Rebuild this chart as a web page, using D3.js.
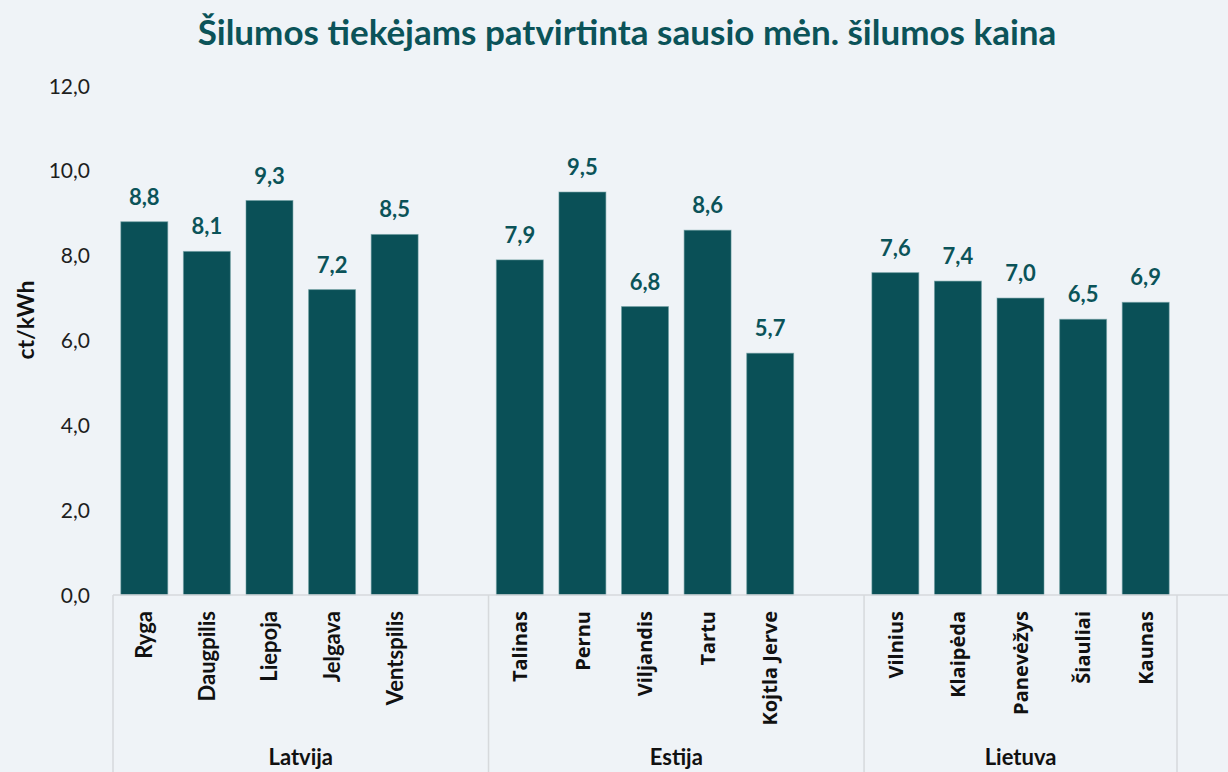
<!DOCTYPE html>
<html>
<head>
<meta charset="utf-8">
<script src="https://cdn.jsdelivr.net/npm/d3@7"></script>
<style>
  html, body { margin: 0; padding: 0; background: #eff3f7; }
  svg { display: block; }
</style>
</head>
<body>
<div id="chart"></div>
<script>
// 1. DATA
const groups = ["Latvija", "Estija", "Lietuva"];
const latvijaCities = ["Ryga", "Daugpilis", "Liepoja", "Jelgava", "Ventspilis"];
const latvijaValues = [8.8, 8.1, 9.3, 7.2, 8.5];
const estijaCities = ["Talinas", "Pernu", "Viljandis", "Tartu", "Kojtla Jerve"];
const estijaValues = [7.9, 9.5, 6.8, 8.6, 5.7];
const lietuvaCities = ["Vilnius", "Klaipėda", "Panevėžys", "Šiauliai", "Kaunas"];
const lietuvaValues = [7.6, 7.4, 7.0, 6.5, 6.9];
const yTicks = [0, 2, 4, 6, 8, 10, 12];

const title = "Šilumos tiekėjams patvirtinta sausio mėn. šilumos kaina";
const yTitle = "ct/kWh";

// 2. SETUP
const width = 1228;
const height = 772;
const barColor = "#0a5057";
const axisColor = "#d6d9dc";

const svg = d3.select("#chart")
    .append("svg")
    .attr("width", width)
    .attr("height", height);

svg.append("rect").attr("width", width).attr("height", height).attr("fill", "#eff3f7");

const groupData = [
    { name: groups[0], cities: latvijaCities, values: latvijaValues, gap: true, font: "Lato", size: 22 },
    { name: groups[1], cities: estijaCities, values: estijaValues, gap: true, font: "Open Sans", size: 20 },
    { name: groups[2], cities: lietuvaCities, values: lietuvaValues, gap: false, font: "Open Sans", size: 20 }
];

// flat list of bars plus empty slots between groups
const bars = [];
const slots = [];
groupData.forEach(g => {
    g.cities.forEach((c, i) => {
        const key = g.name + "|" + c;
        slots.push(key);
        bars.push({ key, group: g, city: c, value: g.values[i] });
    });
    if (g.gap) slots.push(g.name + "|_gap");
});

const x = d3.scaleBand()
    .domain(slots)
    .range([113, 1177])
    .paddingInner(0.25)
    .paddingOuter(0.125);

const y = d3.scaleLinear()
    .domain([0, 12])
    .range([595, 86]);

const locale = d3.formatLocale({ decimal: ",", thousands: " ", grouping: [3], currency: ["", "€"] });
const fmt = locale.format(".1f");

// 3. DRAWING
svg.append("text")
    .attr("x", 627).attr("y", 45)
    .attr("text-anchor", "middle")
    .style("font-family", "Lato, sans-serif")
    .style("font-weight", "bold")
    .style("font-size", "35px")
    .style("fill", "#0b5359")
    .text(title);

// y tick labels
svg.append("g").selectAll("text").data(yTicks).join("text")
    .attr("x", 90).attr("y", d => y(d))
    .attr("dy", "0.36em")
    .attr("text-anchor", "end")
    .style("font-family", "Lato, sans-serif")
    .style("font-size", "21px")
    .style("fill", "#1e1e1e")
    .text(d => fmt(d));

svg.append("text")
    .attr("transform", "translate(34, 320) rotate(-90)")
    .attr("text-anchor", "middle")
    .style("font-family", "Lato, sans-serif")
    .style("font-weight", "bold")
    .style("font-size", "23px")
    .style("fill", "#111")
    .text(yTitle);

// bars
svg.append("g").selectAll("rect").data(bars).join("rect")
    .attr("x", d => x(d.key))
    .attr("y", d => y(d.value))
    .attr("width", x.bandwidth())
    .attr("height", d => y(0) - y(d.value))
    .attr("fill", barColor)
    .attr("stroke", "#6a9a9e")
    .attr("stroke-opacity", 0.55)
    .attr("stroke-width", 1);

// value labels
svg.append("g").selectAll("text").data(bars).join("text")
    .attr("x", d => x(d.key) + x.bandwidth() / 2)
    .attr("y", d => y(d.value) - 17)
    .attr("text-anchor", "middle")
    .style("font-family", "Lato, sans-serif")
    .style("font-weight", "bold")
    .style("font-size", "22px")
    .style("fill", "#0b5359")
    .text(d => fmt(d.value));

// x axis line and group separators
const half = x.step() * x.paddingInner() / 2;
const bounds = groupData.map(g => x(g.name + "|" + g.cities[0]) - half);
const last = groupData[groupData.length - 1];
bounds.push(x(last.name + "|" + last.cities[last.cities.length - 1]) + x.bandwidth() + half);

const axis = svg.append("g");
axis.append("line")
    .attr("x1", x.range()[0]).attr("x2", width)
    .attr("y1", y(0)).attr("y2", y(0))
    .attr("stroke", axisColor).attr("stroke-width", 1.5);
axis.selectAll(".sep").data(bounds).join("line")
    .attr("class", "sep")
    .attr("x1", d => d).attr("x2", d => d)
    .attr("y1", y(0)).attr("y2", height)
    .attr("stroke", axisColor).attr("stroke-width", 1.5);

// city labels
svg.append("g").selectAll("text").data(bars).join("text")
    .attr("transform", d => `translate(${x(d.key) + x.bandwidth() / 2}, 611) rotate(-90)`)
    .attr("dy", "0.36em")
    .attr("text-anchor", "end")
    .style("font-family", d => d.group.font + ", sans-serif")
    .style("font-weight", "bold")
    .style("font-size", d => d.group.size + "px")
    .style("fill", "#111")
    .text(d => d.city);

// group labels
svg.append("g").selectAll("text").data(groupData).join("text")
    .attr("x", (d, i) => (bounds[i] + bounds[i + 1]) / 2)
    .attr("y", 765)
    .attr("text-anchor", "middle")
    .style("font-family", "Lato, sans-serif")
    .style("font-weight", "bold")
    .style("font-size", "22px")
    .style("fill", "#111")
    .text(d => d.name);
</script>
</body>
</html>
